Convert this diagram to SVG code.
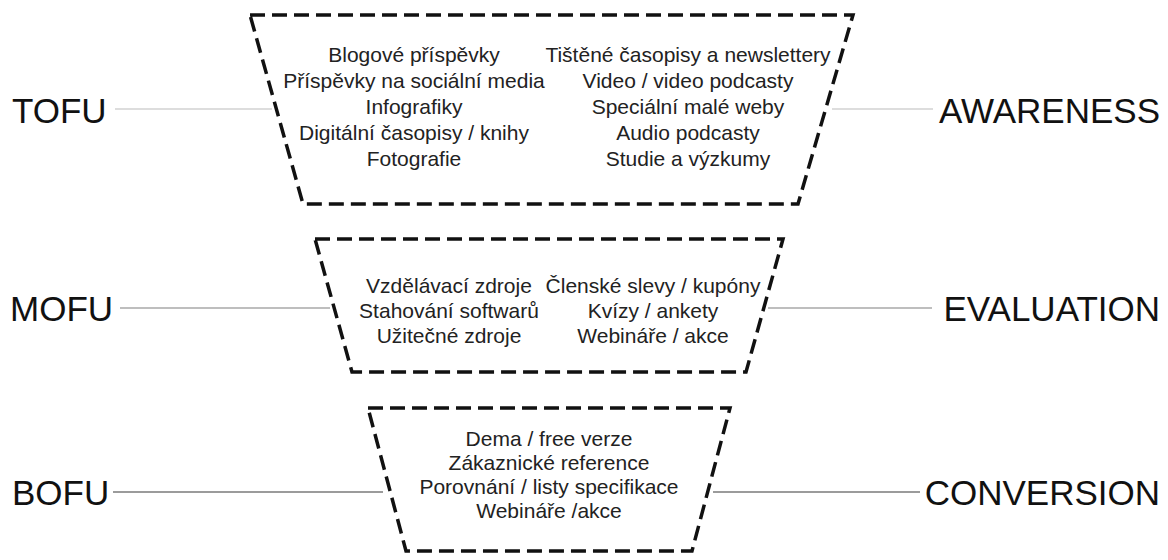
<svg xmlns="http://www.w3.org/2000/svg" width="1168" height="560" viewBox="0 0 1168 560">
<style>
.funnel{fill:none;stroke:#111;stroke-width:3.5;stroke-dasharray:15 7;stroke-linejoin:miter}
.item{font-family:"Liberation Sans",Arial,sans-serif;font-size:21px;fill:#222;text-anchor:middle}
.lab{font-family:"Liberation Sans",Arial,sans-serif;font-size:35px;fill:#111}
.r{text-anchor:end}
.c1{stroke:#d2d2d2;stroke-width:1.5}
.c2{stroke:#a8a8a8;stroke-width:1.5}
.c3{stroke:#7a7a7a;stroke-width:1.5}
</style>
<rect width="1168" height="560" fill="#fff"/>
<g id="connectors">
<line class="c1" x1="115" y1="109" x2="272" y2="109"/>
<line class="c1" x1="832" y1="109" x2="933" y2="109"/>
<line class="c2" x1="120" y1="308" x2="330" y2="308"/>
<line class="c2" x1="768" y1="308" x2="932" y2="308"/>
<line class="c3" x1="113" y1="492" x2="383" y2="492"/>
<line class="c3" x1="713" y1="492" x2="920" y2="492"/>
</g>
<g id="tofu">
<polygon class="funnel" points="250,15 853,15 798,204 303,204"/>
<text class="item" x="414" y="62">Blogové příspěvky</text>
<text class="item" x="414" y="88">Příspěvky na sociální media</text>
<text class="item" x="414" y="114">Infografiky</text>
<text class="item" x="414" y="140">Digitální časopisy / knihy</text>
<text class="item" x="414" y="166">Fotografie</text>
<text class="item" x="688" y="62">Tištěné časopisy a newslettery</text>
<text class="item" x="688" y="88">Video / video podcasty</text>
<text class="item" x="688" y="114">Speciální malé weby</text>
<text class="item" x="688" y="140">Audio podcasty</text>
<text class="item" x="688" y="166">Studie a výzkumy</text>
</g>
<g id="mofu">
<polygon class="funnel" points="315,239 783,239 746,372 352,372"/>
<text class="item" x="449" y="293">Vzdělávací zdroje</text>
<text class="item" x="449" y="318">Stahování softwarů</text>
<text class="item" x="449" y="343">Užitečné zdroje</text>
<text class="item" x="653" y="293">Členské slevy / kupóny</text>
<text class="item" x="653" y="318">Kvízy / ankety</text>
<text class="item" x="653" y="343">Webináře / akce</text>
</g>
<g id="bofu">
<polygon class="funnel" points="368,408 730,408 692,551 406,551"/>
<text class="item" x="549" y="446">Dema / free verze</text>
<text class="item" x="549" y="470">Zákaznické reference</text>
<text class="item" x="549" y="494">Porovnání / listy specifikace</text>
<text class="item" x="549" y="518">Webináře /akce</text>
</g>
<g id="label-tofu"><text class="lab" x="12" y="123">TOFU</text></g>
<g id="label-mofu"><text class="lab" x="10" y="321">MOFU</text></g>
<g id="label-bofu"><text class="lab" x="12" y="505">BOFU</text></g>
<g id="label-awareness"><text class="lab r" x="1160" y="123">AWARENESS</text></g>
<g id="label-evaluation"><text class="lab r" x="1160" y="321">EVALUATION</text></g>
<g id="label-conversion"><text class="lab r" x="1160" y="505">CONVERSION</text></g>
</svg>
